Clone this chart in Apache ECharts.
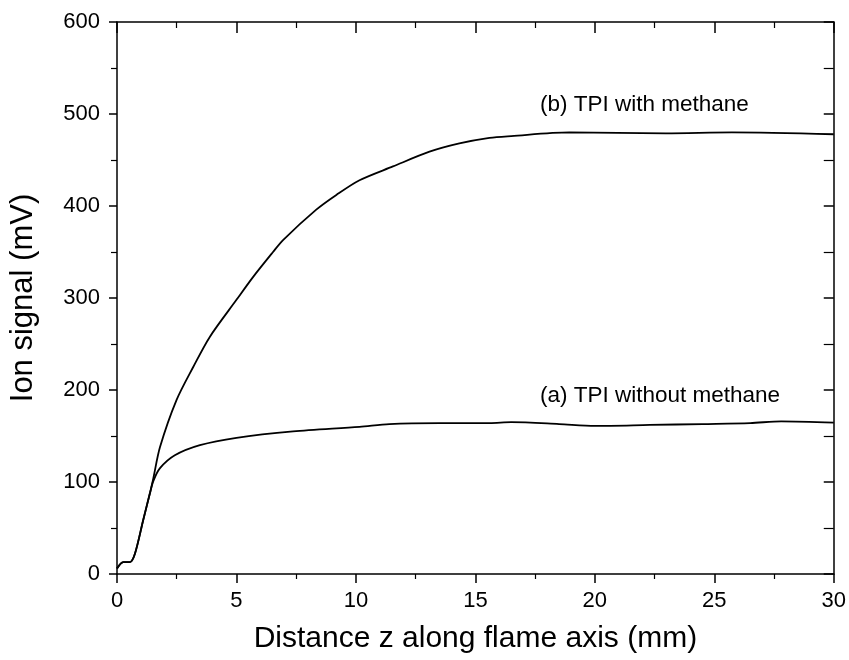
<!DOCTYPE html>
<html>
<head>
    <meta charset="utf-8">
    <title>Ion signal</title>
    <script src="https://cdn.jsdelivr.net/npm/echarts@6/dist/echarts.min.js"></script>
    <style>
        html, body { margin: 0; padding: 0; background: #fff; }
    </style>
</head>
<body>
    <div id="main" style="width: 849px;height:660px;"></div>
    <script type="text/javascript">
        // (b) TPI with methane
        var withZ = [0, 0.26, 0.54, 0.75, 1.1, 1.38, 1.52, 1.8, 2.49, 3.19, 3.89, 5.0, 5.7, 6.53, 6.95, 8.34, 9.18, 10.15, 11.55, 13.08, 14.33, 15.59, 16.5, 18.93, 22.97, 25.74, 30];
        var withV = [6, 13, 13, 22, 59, 88, 104, 138, 189, 225, 258, 298, 323, 350, 363, 396, 412, 428, 443, 459, 468, 474, 476, 480, 479, 480, 478];
        // (a) TPI without methane
        var withoutZ = [0, 0.26, 0.54, 0.75, 1.1, 1.38, 1.52, 1.8, 2.42, 3.47, 5.0, 7.37, 10.15, 11.4, 13.5, 15.6, 16.5, 18.5, 20.0, 22.3, 24.5, 26.5, 27.8, 30];
        var withoutV = [6, 13, 13, 22, 59, 88, 101, 115, 129, 140, 148, 155, 160, 163, 164, 164, 165, 163, 161, 162, 163, 164, 166, 164.5];

        var labelB = '(b) TPI with methane';
        var labelA = '(a) TPI without methane';

        function pairs(xs, ys) {
            var out = [];
            for (var i = 0; i < xs.length; i++) out.push([xs[i], ys[i]]);
            return out;
        }

        var font = 'Liberation Sans, Arial, sans-serif';
        var black = '#000';

        var myChart = echarts.init(document.getElementById('main'));
        var option = {
            backgroundColor: '#fff',
            animation: false,
            grid: { left: 117, right: 12, top: 22, bottom: 86 },
            xAxis: [{
                type: 'value', min: 0, max: 30, interval: 5,
                name: 'Distance z along flame axis (mm)',
                nameLocation: 'middle', nameGap: 50,
                nameTextStyle: { fontFamily: font, fontSize: 30, color: black },
                axisLine: { lineStyle: { color: black, width: 1.5 } },
                axisTick: { length: 9, lineStyle: { color: black, width: 1.5 } },
                minorTick: { show: true, splitNumber: 2, length: 5, lineStyle: { color: black, width: 1.2 } },
                axisLabel: { fontFamily: font, fontSize: 22, color: black, margin: 16 },
                splitLine: { show: false }
            }, {
                type: 'value', min: 0, max: 30, interval: 5, position: 'top',
                axisLine: { onZero: false, lineStyle: { color: black, width: 1.5 } },
                axisTick: { inside: true, length: 11, lineStyle: { color: black, width: 1.5 } },
                minorTick: { show: true, splitNumber: 2, length: 6, lineStyle: { color: black, width: 1.2 } },
                axisLabel: { show: false },
                splitLine: { show: false }
            }],
            yAxis: [{
                type: 'value', min: 0, max: 600, interval: 100,
                name: 'Ion signal (mV)',
                nameLocation: 'middle', nameGap: 78,
                nameTextStyle: { fontFamily: font, fontSize: 31, color: black },
                axisLine: { show: true, lineStyle: { color: black, width: 1.5 } },
                axisTick: { show: true, length: 8, lineStyle: { color: black, width: 1.5 } },
                minorTick: { show: true, splitNumber: 2, length: 6, lineStyle: { color: black, width: 1.2 } },
                axisLabel: { fontFamily: font, fontSize: 22, color: black, margin: 17 },
                splitLine: { show: false }
            }, {
                type: 'value', min: 0, max: 600, interval: 100, position: 'right',
                axisLine: { show: true, onZero: false, lineStyle: { color: black, width: 1.5 } },
                axisTick: { show: true, inside: true, length: 10, lineStyle: { color: black, width: 1.5 } },
                minorTick: { show: true, splitNumber: 2, length: 10, lineStyle: { color: black, width: 1.2 } },
                axisLabel: { show: false },
                splitLine: { show: false }
            }],
            series: [{
                name: labelB,
                type: 'line',
                smooth: 0.3,
                showSymbol: false,
                lineStyle: { color: black, width: 1.8 },
                data: pairs(withZ, withV),
                markPoint: {
                    symbol: 'circle', symbolSize: 0,
                    label: { show: true, formatter: labelB, fontFamily: font, fontSize: 22.5, color: black, align: 'left', offset: [0, 0] },
                    data: [{ coord: [17.7, 510] }]
                }
            }, {
                name: labelA,
                type: 'line',
                smooth: 0.3,
                showSymbol: false,
                lineStyle: { color: black, width: 1.8 },
                data: pairs(withoutZ, withoutV),
                markPoint: {
                    symbol: 'circle', symbolSize: 0,
                    label: { show: true, formatter: labelA, fontFamily: font, fontSize: 22.5, color: black, align: 'left', offset: [0, 0] },
                    data: [{ coord: [17.7, 194] }]
                }
            }]
        };
        myChart.setOption(option);
    </script>
</body>
</html>
